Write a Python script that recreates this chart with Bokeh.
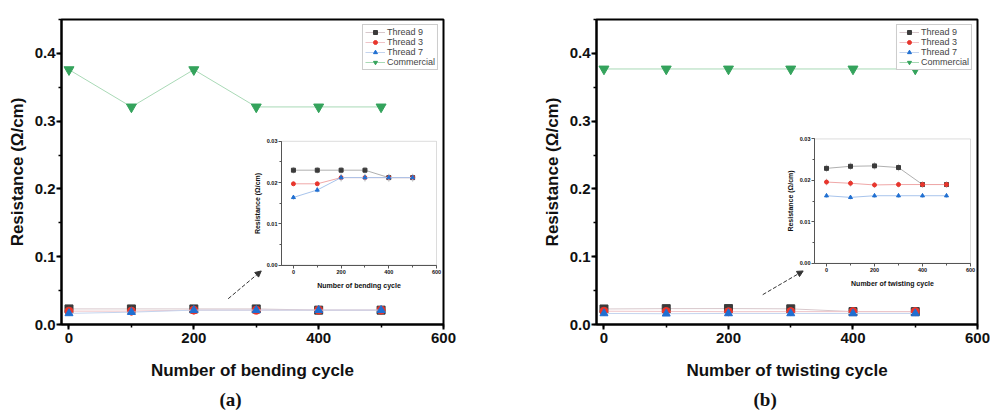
from bokeh.plotting import figure
from bokeh.models import (Range1d, LinearAxis, SingleIntervalTicker, Legend, LegendItem,
                          BoxAnnotation, Arrow, NormalHead, Title, NumeralTickFormatter)
from bokeh.layouts import row
from bokeh.embed import file_html
from bokeh.resources import INLINE

# ---------------- data ----------------
cycles = [0, 100, 200, 300, 400, 500]

# (a) bending
bend_t9 = [0.0230, 0.0230, 0.0230, 0.0230, 0.0212, 0.0212]
bend_t3 = [0.0197, 0.0197, 0.0212, 0.0212, 0.0212, 0.0212]
bend_t7 = [0.0164, 0.0182, 0.0212, 0.0212, 0.0212, 0.0212]
bend_com = [0.376, 0.321, 0.376, 0.321, 0.321, 0.321]
bend_e9 = [0.0008, 0.0008, 0.0008, 0.0008, 0.0009, 0.0009]
bend_e3 = [0.0005, 0.0005, 0.0009, 0.0009, 0.0009, 0.0009]
bend_e7 = [0.0006, 0.0006, 0.0009, 0.0009, 0.0009, 0.0009]

# (b) twisting
twist_t9 = [0.0229, 0.0234, 0.0235, 0.0231, 0.0190, 0.0190]
twist_t3 = [0.0196, 0.0193, 0.0189, 0.0190, 0.0190, 0.0190]
twist_t7 = [0.0163, 0.0159, 0.0163, 0.0163, 0.0163, 0.0163]
twist_com = [0.377, 0.377, 0.377, 0.377, 0.377, 0.377]
twist_e9 = [0.0009, 0.0009, 0.0009, 0.0009, 0.0008, 0.0008]
twist_e3 = [0.0008, 0.0008, 0.0007, 0.0007, 0.0007, 0.0007]
twist_e7 = [0.0005, 0.0005, 0.0005, 0.0005, 0.0005, 0.0005]

series_names = ["Thread 9", "Thread 3", "Thread 7", "Commercial"]
y_label = "Resistance (Ω/cm)"

# ---------------- styles ----------------
FONT = "Liberation Sans"
C9, C3, C7, CC = "#3b3b3b", "#e8352c", "#1f6fd2", "#34a35c"
L9, L3, L7, LC = "#d8c8cc", "#efc4c8", "#c4d4ee", "#a9d9b6"
IL9, IL3, IL7 = "#b0b0b0", "#f0a8a8", "#a8c4ec"
H = 414


def inset_x(lo, hi, p0, p1, f0, f1):
    k = (hi - lo) / (p1 - p0)
    return Range1d(lo - (p0 - f0) * k, hi + (f1 - p1) * k)


def inset_y(lo, hi, pb, pt, fb, ft):
    k = (hi - lo) / (pb - pt)
    return Range1d(lo - (fb - pb) * k, hi + (pt - ft) * k)


def style_axis(ax, size_lbl, size_title, tick_out, minor_out, lw, standoff, lstandoff, color="black"):
    ax.axis_line_width = lw
    ax.axis_line_color = color
    ax.major_tick_line_width = lw
    ax.major_tick_line_color = color
    ax.minor_tick_line_color = color
    ax.minor_tick_line_width = max(1, lw - 0.5)
    ax.major_tick_in = 0
    ax.major_tick_out = tick_out
    ax.minor_tick_in = 0
    ax.minor_tick_out = minor_out
    ax.major_label_text_font = FONT
    ax.major_label_text_font_style = "bold"
    ax.major_label_text_font_size = size_lbl
    ax.major_label_text_color = "#111111"
    ax.major_label_standoff = standoff
    ax.axis_label_text_font = FONT
    ax.axis_label_text_font_style = "bold"
    ax.axis_label_text_font_size = size_title
    ax.axis_label_text_color = "#111111"
    ax.axis_label_standoff = lstandoff


def make_panel(width, fl, fr, ft, fb, ibox, t9, t3, t7, com, e9, e3, e7,
               xlabel, caption, cap_off, arrow_xy):
    p = figure(width=width, height=H, x_range=Range1d(-12, 600), y_range=Range1d(0, 0.45),
               output_backend="svg", toolbar_location=None,
               min_border_left=fl, min_border_right=width - fr,
               min_border_top=ft, min_border_bottom=H - fb)
    p.grid.visible = False
    p.outline_line_color = "black"
    p.outline_line_width = 2
    p.background_fill_color = "white"
    p.border_fill_color = "white"

    p.xaxis.ticker = SingleIntervalTicker(interval=200, num_minor_ticks=2)
    p.yaxis.ticker = SingleIntervalTicker(interval=0.1, num_minor_ticks=2)
    p.yaxis.formatter = NumeralTickFormatter(format="0.0")
    p.xaxis.axis_label = xlabel
    p.yaxis.axis_label = y_label
    style_axis(p.xaxis[0], "15px", "17px", 5, 3, 2, 3, 15)
    style_axis(p.yaxis[0], "15px", "17px", 5, 3, 2, 1, 5)

    # main series
    l9 = p.line(cycles, t9, line_color=L9, line_width=1)
    s9 = p.scatter(cycles, t9, marker="square", size=8, color=C9)
    l3 = p.line(cycles, t3, line_color=L3, line_width=1)
    s3 = p.scatter(cycles, t3, marker="circle", size=8, color=C3)
    l7 = p.line(cycles, t7, line_color=L7, line_width=1)
    s7 = p.scatter(cycles, t7, marker="triangle", size=8, color=C7)
    lc = p.line(cycles, com, line_color=LC, line_width=1)
    sc = p.scatter(cycles, com, marker="inverted_triangle", size=10, color=CC)

    legend = Legend(items=[LegendItem(label=series_names[0], renderers=[l9, s9]),
                           LegendItem(label=series_names[1], renderers=[l3, s3]),
                           LegendItem(label=series_names[2], renderers=[l7, s7]),
                           LegendItem(label=series_names[3], renderers=[lc, sc])],
                    location="top_right", margin=5, padding=2, spacing=0,
                    label_text_font=FONT, label_text_font_size="9px", label_text_color="#444444",
                    label_height=10, glyph_height=10, glyph_width=20, label_standoff=2,
                    border_line_color="#999999", border_line_width=1,
                    background_fill_color="white", background_fill_alpha=1)
    p.add_layout(legend, "center")

    # inset (own ranges mapped into a sub-rectangle of the frame)
    il, ir, it, ib = ibox
    p.extra_x_ranges = {"ix": inset_x(-50, 600, il, ir, fl, fr)}
    p.extra_y_ranges = {"iy": inset_y(0, 0.03, ib, it, fb, ft)}
    box = BoxAnnotation(left=-50, right=600, bottom=0, top=0.03, x_range_name="ix", y_range_name="iy",
                        fill_color="white", fill_alpha=1.0, line_color="#8a8a8a", line_width=1,
                        level="underlay")
    p.add_layout(box)

    for vals, errs, lcol, mcol, mk in [(t9, e9, IL9, C9, "square"), (t3, e3, IL3, C3, "circle"),
                                      (t7, e7, IL7, C7, "triangle")]:
        lo = [v - e for v, e in zip(vals, errs)]
        hi = [v + e for v, e in zip(vals, errs)]
        p.segment(x0=cycles, y0=lo, x1=cycles, y1=hi, line_color="#c8c8c8", line_width=1,
                  x_range_name="ix", y_range_name="iy")
        p.line(cycles, vals, line_color=lcol, line_width=1, x_range_name="ix", y_range_name="iy")
        p.scatter(cycles, vals, marker=mk, size=4, color=mcol, x_range_name="ix", y_range_name="iy")

    ax = LinearAxis(x_range_name="ix", y_range_name="iy", fixed_location=0, bounds=(-50, 600),
                    ticker=SingleIntervalTicker(interval=200, num_minor_ticks=2),
                    axis_label=xlabel)
    style_axis(ax, "5.5px", "7px", 3, 2, 1, 2, 4, color="#555555")
    p.add_layout(ax, "below")
    ay = LinearAxis(x_range_name="ix", y_range_name="iy", fixed_location=-50, bounds=(0, 0.03),
                    ticker=SingleIntervalTicker(interval=0.01, num_minor_ticks=2),
                    formatter=NumeralTickFormatter(format="0.00"),
                    axis_label=y_label)
    style_axis(ay, "5.5px", "7px", 3, 2, 1, 1, 3, color="#555555")
    p.add_layout(ay, "left")

    # arrow
    x0, y0, x1, y1 = arrow_xy
    p.add_layout(Arrow(x_start=x0, y_start=y0, x_end=x1, y_end=y1, line_color="#333333",
                       line_width=1, line_dash="4 2",
                       end=NormalHead(size=6, fill_color="#333333", line_color="#333333")))

    # caption
    p.add_layout(Title(text=caption, align="left", offset=cap_off, standoff=9,
                       text_font="Liberation Serif", text_font_style="bold",
                       text_font_size="19px", text_color="#111111"), "below")
    return p


pa = make_panel(485, 61, 443, 19, 327, (281, 436, 142, 267),
                bend_t9, bend_t3, bend_t7, bend_com, bend_e9, bend_e3, bend_e7,
                "Number of bending cycle", "(a)", 158, (255, 0.038, 308, 0.079))
pb = make_panel(505, 111, 492, 16, 325, (329, 485, 137, 263),
                twist_t9, twist_t3, twist_t7, twist_com, twist_e9, twist_e3, twist_e7,
                "Number of twisting cycle", "(b)", 157, (255, 0.044, 320, 0.079))

layout = row(pa, pb)
open("out.html", "w").write(file_html(layout, INLINE))
